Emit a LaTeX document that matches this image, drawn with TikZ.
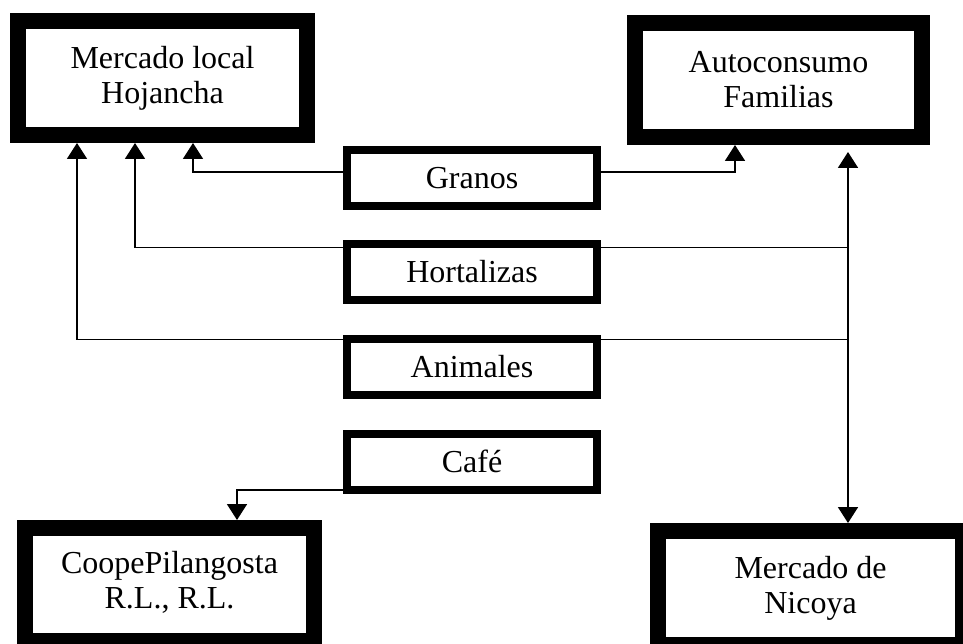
\documentclass[tikz,border=0pt]{standalone}
\usepackage{fontspec}
\setmainfont{Liberation Serif}
\usetikzlibrary{arrows.meta}
\begin{document}
\begin{tikzpicture}[x=1pt,y=-1pt,
  txt/.style={font=\fontsize{32}{35}\selectfont},
  bigbox/.style={txt, draw=black, line width=16pt, fill=white, align=center, inner sep=0pt},
  smallbox/.style={txt, draw=black, line width=8pt, fill=white, minimum width=250pt, minimum height=56pt, inner sep=0pt},
  tip/.tip={Triangle[width=20pt,length=16pt]},
  arr/.style={line width=1.8pt, -tip},
  dblarr/.style={line width=1.8pt, tip-tip},
  link/.style={line width=1.8pt}]
\useasboundingbox (0,0) rectangle (963,644);
\fill[white] (0,0) rectangle (963,644);

% big boxes
\node[bigbox, minimum width=289pt, minimum height=114pt] (merc) at (162.5,78) {Mercado local\\Hojancha};
\node[bigbox, minimum width=287pt, minimum height=114pt] (auto) at (778.5,80) {Autoconsumo\\Familias};
\node[bigbox, minimum width=289pt, minimum height=113pt] (coope) at (169.5,584.5) {CoopePilangosta\\R.L., R.L.\\[-25pt]};
\node[bigbox, minimum width=305pt, minimum height=114pt] (nic) at (810.5,588) {Mercado de\\Nicoya};

% small boxes
\node[smallbox] (gra) at (472,178) {\raisebox{-3pt}{Granos}};
\node[smallbox] (hor) at (472,272) {\raisebox{-3pt}{Hortalizas}};
\node[smallbox] (ani) at (472,366.5) {\raisebox{-3pt}{Animales}};
\node[smallbox] (caf) at (472,461.5) {Café};

% helper coordinates
\coordinate (m1) at ([xshift=-85.5pt]merc.south);
\coordinate (m2) at ([xshift=-27.5pt]merc.south);
\coordinate (m3) at ([xshift=30.5pt]merc.south);
\coordinate (a1) at ([xshift=-43.5pt]auto.south);
\coordinate (vtop) at (848,152);
\coordinate (vbot) at (vtop |- nic.north);
\coordinate (c1) at ([xshift=67.5pt]coope.north);

% connectors
\draw[arr] ([yshift=6pt]gra.west) -| (m3);
\draw[arr] ([yshift=6pt]gra.east) -| (a1);
\draw[arr] ([yshift=24.5pt]hor.west) -| (m2);
\draw[link] ([yshift=24.5pt]hor.east) -- ([yshift=24.5pt]hor.east -| vtop);
\draw[arr] ([yshift=27pt]ani.west) -| (m1);
\draw[link] ([yshift=27pt]ani.east) -- ([yshift=27pt]ani.east -| vtop);
\draw[dblarr] (vtop) -- (vbot);
\draw[arr] ([yshift=-28.5pt]caf.west) -| (c1);
\end{tikzpicture}
\end{document}
